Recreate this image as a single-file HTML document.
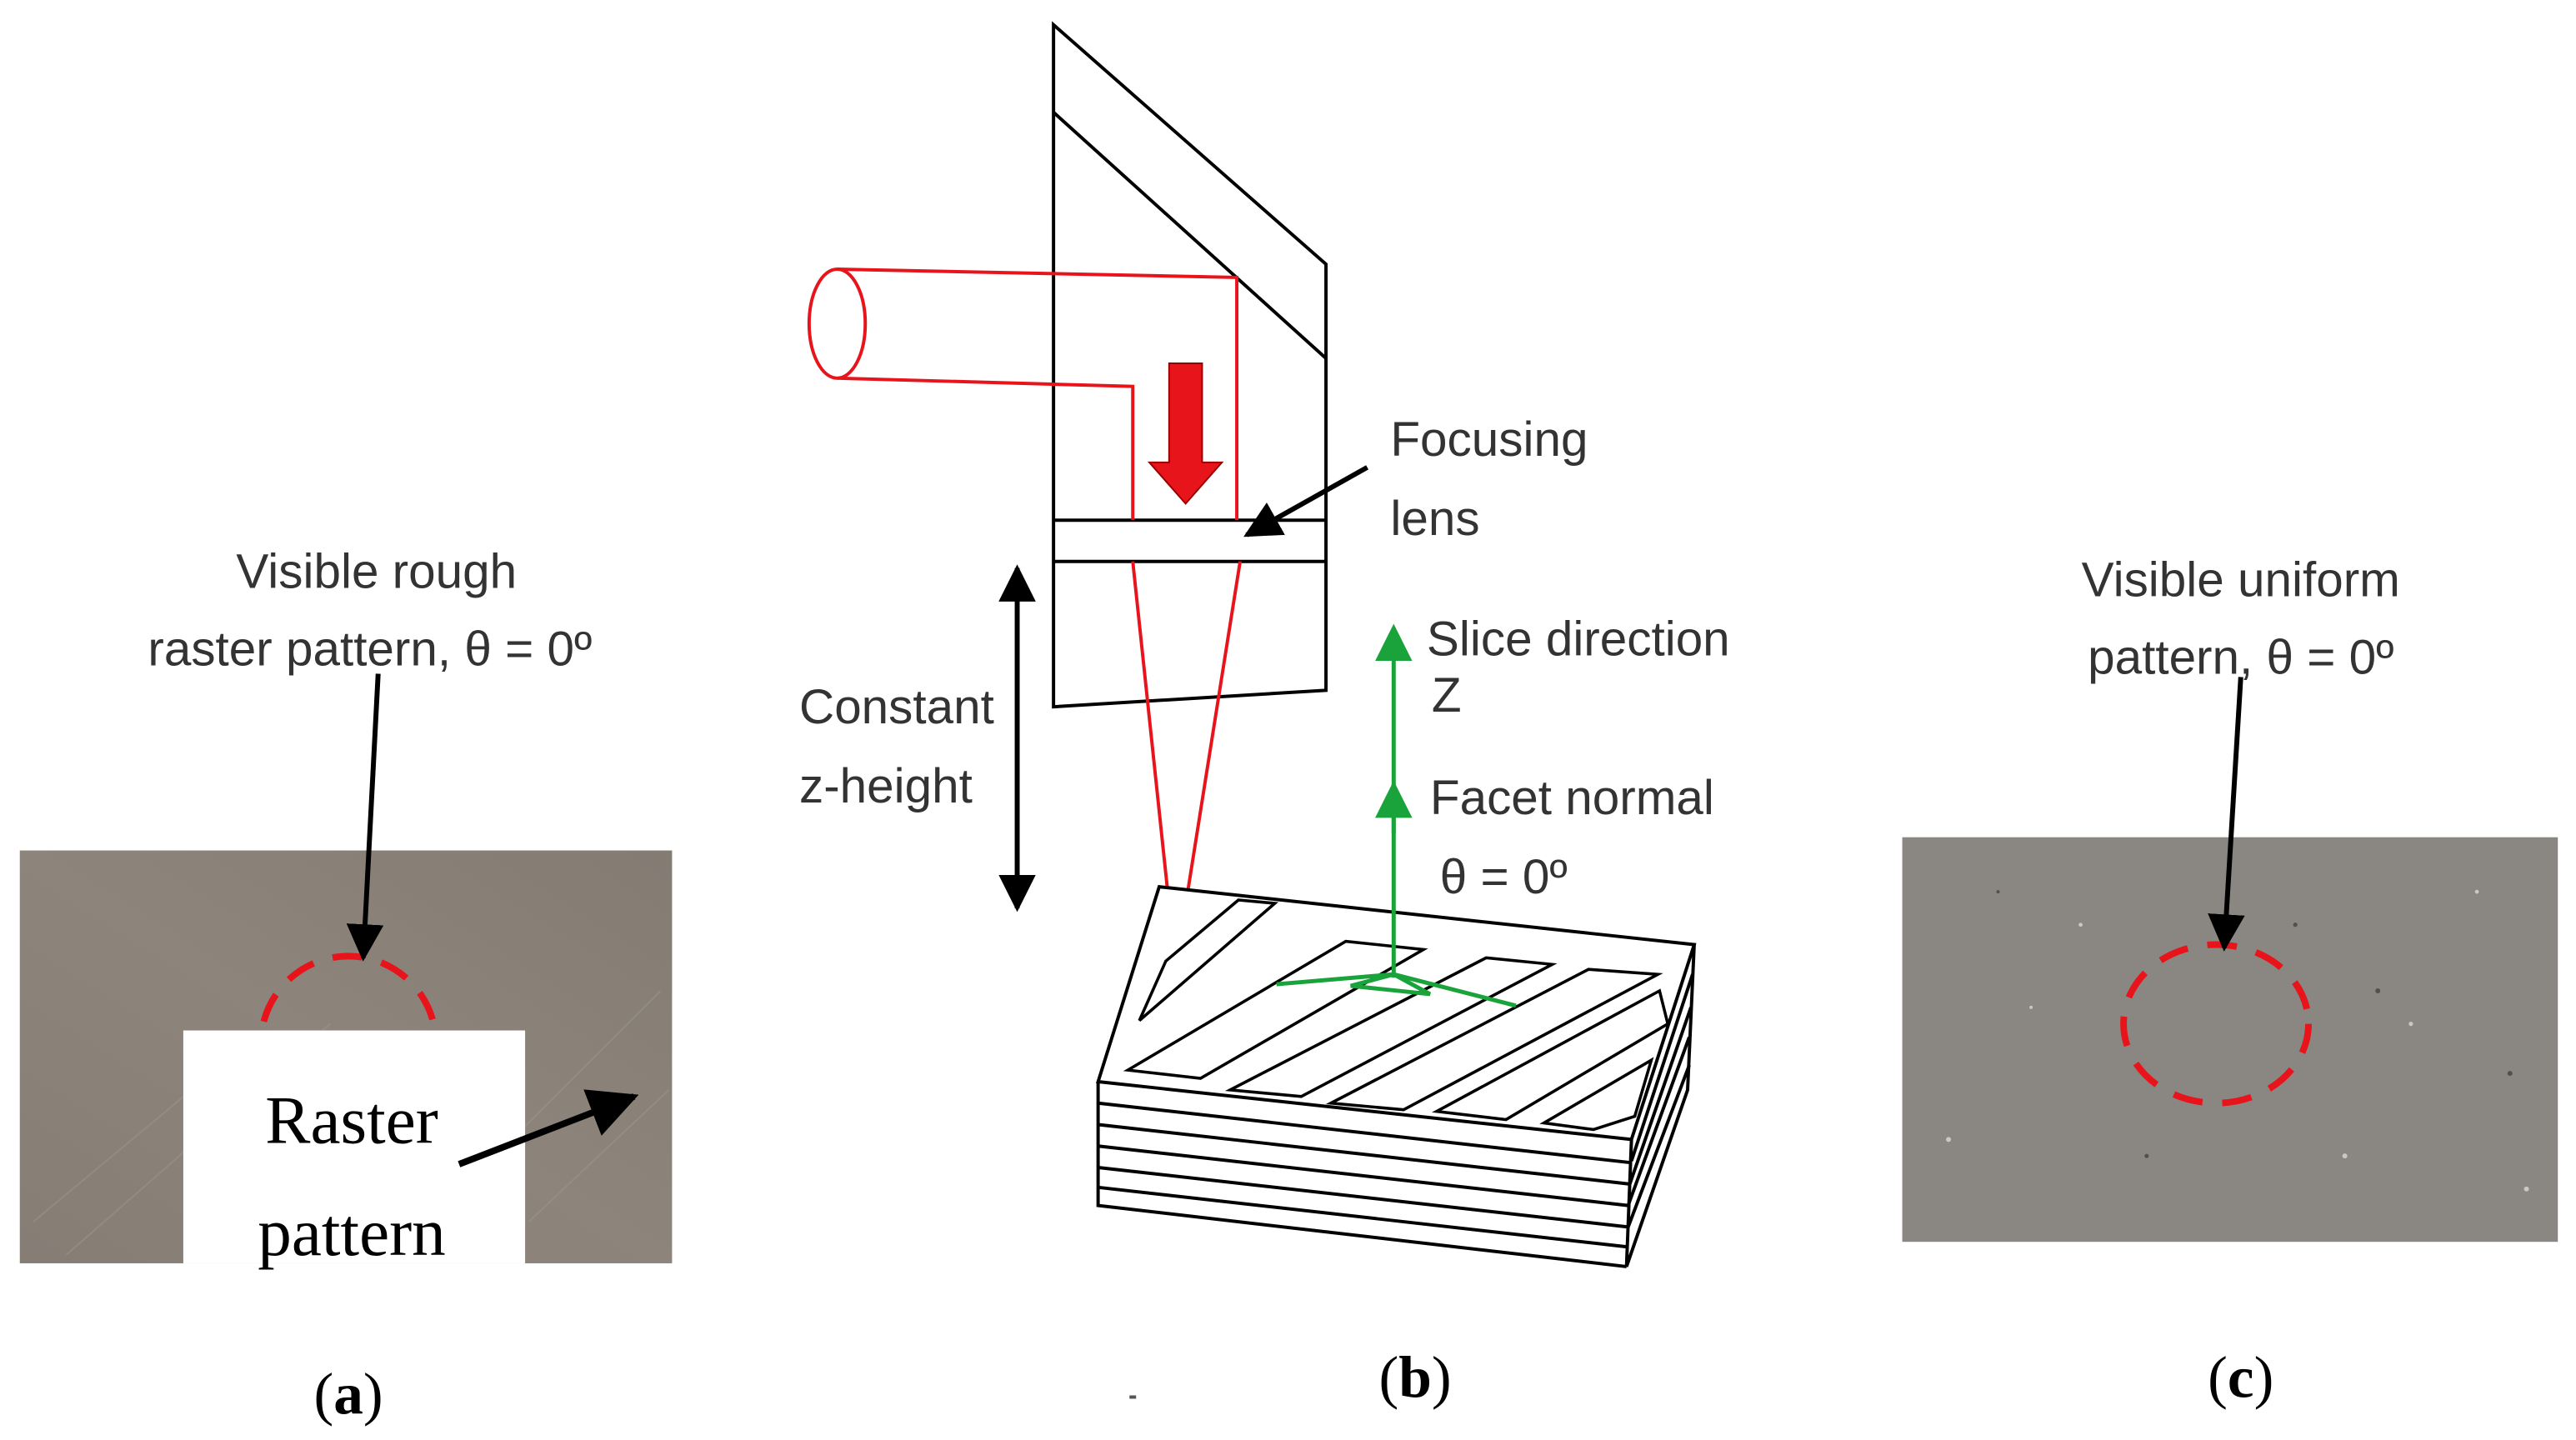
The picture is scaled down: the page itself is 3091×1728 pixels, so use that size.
<!DOCTYPE html>
<html><head><meta charset="utf-8"><style>
html,body{margin:0;padding:0;background:#fff;}
svg{display:block;}
.t{font-family:"Liberation Sans",sans-serif;font-size:29.5px;fill:#333;}
.s{font-family:"Liberation Serif",serif;fill:#000;}
</style></head><body>
<svg width="3091" height="1728" viewBox="0 0 1560 872" preserveAspectRatio="none" xmlns="http://www.w3.org/2000/svg">
<defs>
<marker id="ab" viewBox="0 0 10 10" refX="9" refY="5" markerWidth="7.5" markerHeight="7.5" orient="auto-start-reverse"><path d="M0,0 L10,5 L0,10 z" fill="#000"/></marker>
<marker id="ag" viewBox="0 0 10 10" refX="9" refY="5" markerWidth="9" markerHeight="9" orient="auto"><path d="M0,0 L10,5 L0,10 z" fill="#1aa33a"/></marker>
<linearGradient id="ga" x1="0" y1="1" x2="1" y2="0"><stop offset="0" stop-color="#867e75"/><stop offset="0.5" stop-color="#8d857b"/><stop offset="1" stop-color="#847c73"/></linearGradient>
</defs>

<!-- Panel a -->
<text class="t" x="228" y="356" text-anchor="middle">Visible rough</text>
<text class="t" x="224" y="403" text-anchor="middle">raster pattern, θ = 0º</text>
<rect x="12" y="515" width="395" height="250" fill="url(#ga)"/>
<g stroke="#9a938a" stroke-width="1" opacity="0.6">
<line x1="20" y1="740" x2="140" y2="640"/><line x1="40" y1="760" x2="200" y2="620"/><line x1="300" y1="700" x2="400" y2="600"/><line x1="320" y1="740" x2="405" y2="660"/>
</g>
<circle cx="211" cy="632" r="53" fill="none" stroke="#e8141b" stroke-width="4" stroke-dasharray="18,12"/>
<rect x="111" y="624" width="207" height="141" fill="#fff"/>
<line x1="229" y1="408" x2="220" y2="580" stroke="#000" stroke-width="3" marker-end="url(#ab)"/>
<text class="s" x="213" y="692" font-size="41" text-anchor="middle">Raster</text>
<text class="s" x="213" y="760" font-size="41" text-anchor="middle">pattern</text>
<line x1="278" y1="705" x2="384" y2="664" stroke="#000" stroke-width="4" marker-end="url(#ab)"/>
<text class="s" x="211" y="856" font-size="36" text-anchor="middle">(<tspan font-weight="bold">a</tspan>)</text>

<!-- Panel b -->
<g fill="none" stroke="#000" stroke-width="2">
<polygon points="638,15 803,160 803,418 638,428"/>
<line x1="638" y1="68" x2="803" y2="217"/>
<line x1="638" y1="315" x2="803" y2="315"/>
<line x1="638" y1="340" x2="803" y2="340"/>
</g>
<g fill="none" stroke="#e8141b" stroke-width="2">
<ellipse cx="507" cy="196" rx="17" ry="33"/>
<polyline points="507,163 749,168 749,315"/>
<polyline points="507,229 686,234 686,315"/>
<line x1="686" y1="340" x2="708" y2="548"/>
<line x1="751" y1="340" x2="718" y2="548"/>
</g>
<circle cx="713" cy="550" r="6" fill="#e8141b"/>
<path d="M708,220 L728,220 L728,280 L740,280 L718,305 L696,280 L708,280 Z" fill="#e8141b" stroke="#900" stroke-width="1"/>
<line x1="828" y1="283" x2="755" y2="324" stroke="#000" stroke-width="3" marker-end="url(#ab)"/>
<text class="t" x="842" y="276">Focusing</text>
<text class="t" x="842" y="324">lens</text>
<line x1="616" y1="344" x2="616" y2="550" stroke="#000" stroke-width="3" marker-start="url(#ab)" marker-end="url(#ab)"/>
<text class="t" x="484" y="438">Constant</text>
<text class="t" x="484" y="486">z-height</text>

<!-- slab -->
<g fill="none" stroke="#000" stroke-width="2">
<polygon points="702,537 1026,572 988,690 665,655" fill="#fff"/>
<polyline points="665,655 665,730 985,767"/>
<line x1="665" y1="668" x2="987" y2="704"/>
<line x1="665" y1="681" x2="987" y2="717"/>
<line x1="665" y1="694" x2="986" y2="730"/>
<line x1="665" y1="707" x2="986" y2="743"/>
<line x1="665" y1="719" x2="985" y2="755"/>
<polyline points="988,690 985,767 1022,660 1026,572"/>
<line x1="988" y1="703" x2="1025" y2="590"/>
<line x1="987" y1="717" x2="1024" y2="610"/>
<line x1="986" y1="730" x2="1023" y2="628"/>
<line x1="986" y1="743" x2="1023" y2="645"/>
<g stroke-width="1.8">
<polygon points="690,618 706,582 750,545 772,547"/>
<polygon points="683,648 815,570 862,575 727,653"/>
<polygon points="745,660 900,580 940,584 788,664"/>
<polygon points="806,668 962,587 1004,590 850,672"/>
<polygon points="870,673 1005,600 1010,620 912,678"/>
<polygon points="935,680 1000,642 990,676 965,684"/>
</g>
</g>
<!-- green -->
<g stroke="#1aa33a" stroke-width="2.5" fill="none">
<line x1="844" y1="592" x2="844" y2="380" marker-end="url(#ag)"/>
<line x1="844" y1="505" x2="844" y2="475" marker-end="url(#ag)"/>
<polyline points="773,596 844,590 918,609"/>
<polygon points="818,597 844,590 866,602"/>
</g>
<text class="t" x="864" y="397">Slice direction</text>
<text class="t" x="867" y="431">Z</text>
<text class="t" x="866" y="493">Facet normal</text>
<text class="t" x="872" y="541">θ = 0º</text>
<text class="s" x="857" y="846" font-size="36" text-anchor="middle">(<tspan font-weight="bold">b</tspan>)</text>
<rect x="684" y="845" width="4" height="2" fill="#555"/>

<!-- Panel c -->
<text class="t" x="1357" y="361" text-anchor="middle">Visible uniform</text>
<text class="t" x="1357" y="408" text-anchor="middle">pattern, θ = 0º</text>
<rect x="1152" y="507" width="397" height="245" fill="#8a8782"/>
<g fill="#dcd8d0" opacity="0.8">
<circle cx="1180" cy="690" r="1.5"/><circle cx="1260" cy="560" r="1.2"/><circle cx="1420" cy="700" r="1.5"/><circle cx="1500" cy="540" r="1.2"/><circle cx="1230" cy="610" r="1"/><circle cx="1460" cy="620" r="1.3"/><circle cx="1530" cy="720" r="1.5"/>
</g>
<g fill="#3a3836" opacity="0.7">
<circle cx="1440" cy="600" r="1.5"/><circle cx="1300" cy="700" r="1.3"/><circle cx="1520" cy="650" r="1.5"/><circle cx="1210" cy="540" r="1"/><circle cx="1390" cy="560" r="1.3"/>
</g>
<ellipse cx="1342" cy="620" rx="56" ry="48" fill="none" stroke="#e8141b" stroke-width="4" stroke-dasharray="18,12"/>
<line x1="1357" y1="410" x2="1347" y2="574" stroke="#000" stroke-width="3" marker-end="url(#ab)"/>
<text class="s" x="1357" y="846" font-size="36" text-anchor="middle">(<tspan font-weight="bold">c</tspan>)</text>
</svg>
</body></html>
